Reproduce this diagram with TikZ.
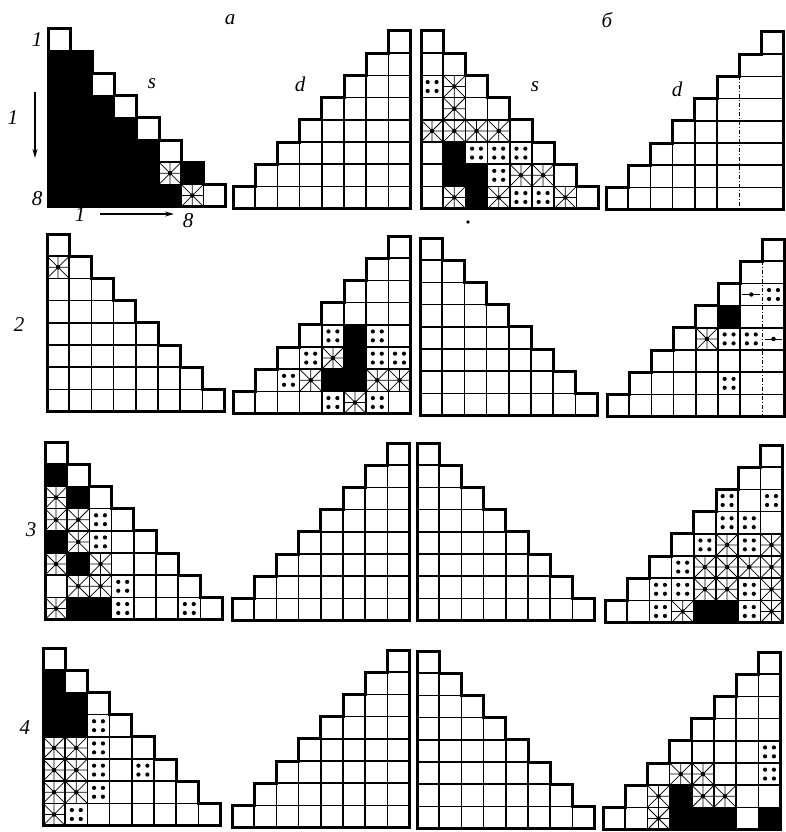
\documentclass[tikz,border=0pt]{standalone}
\usepackage{fontspec}
\setmainfont{Liberation Serif}
\usetikzlibrary{arrows.meta}
\tikzset{
  gridline/.style={line width=1.5pt},
  dashgrid/.style={line width=0.9pt, dash pattern=on 4pt off 2pt on 1pt off 2pt},
  nogrid/.style={draw=none},
  outline/.style={line width=3pt, line join=miter},
  spoke/.style={line width=0.75pt},
  lab/.style={font=\fontsize{21}{25}\selectfont\itshape, inner sep=0pt},
  tri/.style={x=22.2pt, y=-22.2pt},
  axis/.style={line width=1.3pt, -{Stealth[length=9pt,width=5pt]}},
}
% cell contents (row, column)
\newcommand\CB[2]{\fill (#2-1,#1-1) rectangle (#2,#1);}
\newcommand\CS[2]{\draw[spoke] (#2-1,#1-1) -- (#2,#1) (#2,#1-1) -- (#2-1,#1)
  (#2-0.5,#1-1) -- (#2-0.5,#1) (#2-1,#1-0.5) -- (#2,#1-0.5);
  \fill (#2-0.5,#1-0.5) circle (0.1);}
\newcommand\CD[2]{\fill (#2-0.7,#1-0.7) circle (0.095) (#2-0.3,#1-0.7) circle (0.095)
  (#2-0.7,#1-0.3) circle (0.095) (#2-0.3,#1-0.3) circle (0.095);}
\newcommand\CM[2]{\draw[spoke] (#2-0.9,#1-0.5) -- (#2-0.1,#1-0.5);
  \fill (#2-0.5,#1-0.5) circle (0.1);}
% lower-left staircase
\newcommand\GridL{%
  \foreach \k in {1,...,7}{\draw[gridline] (0,\k) -- (\k+1,\k);}
  \foreach \j in {1,...,7}{\draw[gridline] (\j,\j) -- (\j,8);}
  \draw[outline] (0,0) -- (1,0) -- (1,1) -- (2,1) -- (2,2) -- (3,2) -- (3,3) -- (4,3)
    -- (4,4) -- (5,4) -- (5,5) -- (6,5) -- (6,6) -- (7,6) -- (7,7) -- (8,7) -- (8,8)
    -- (0,8) -- cycle;}
% lower-right staircase; #1 style of line x=6, #2 style of line x=7
\newcommand\GridR[2]{%
  \foreach \k in {1,...,7}{\draw[gridline] (7-\k,\k) -- (8,\k);}
  \foreach \j in {1,...,5}{\draw[gridline] (\j,8-\j) -- (\j,8);}
  \draw[#1] (6,2) -- (6,8);
  \draw[#2] (7,1) -- (7,8);
  \draw[outline] (8,0) -- (7,0) -- (7,1) -- (6,1) -- (6,2) -- (5,2) -- (5,3) -- (4,3)
    -- (4,4) -- (3,4) -- (3,5) -- (2,5) -- (2,6) -- (1,6) -- (1,7) -- (0,7) -- (0,8)
    -- (8,8) -- cycle;}
\begin{document}
\begin{tikzpicture}[x=1pt,y=-1pt]
\useasboundingbox (0,0) rectangle (785,832);
\fill[white] (0,0) rectangle (785,832);

% ---------------- row 1 ----------------
\begin{scope}[shift={(48,29)}, tri]
  \foreach \r/\c in {2/1,2/2,3/1,3/2,4/1,4/2,4/3,5/1,5/2,5/3,5/4,
     6/1,6/2,6/3,6/4,6/5,7/1,7/2,7/3,7/4,7/5,7/7,8/1,8/2,8/3,8/4,8/5,8/6}{\CB{\r}{\c}}
  \foreach \r/\c in {7/6,8/7}{\CS{\r}{\c}}
  \GridL
\end{scope}
\begin{scope}[shift={(233,31)}, tri]
  \GridR{gridline}{gridline}
\end{scope}
\begin{scope}[shift={(421,31)}, tri]
  \foreach \r/\c in {6/2,7/2,7/3,8/3}{\CB{\r}{\c}}
  \foreach \r/\c in {3/2,4/2,5/1,5/2,5/3,5/4,7/5,7/6,8/2,8/4,8/7}{\CS{\r}{\c}}
  \foreach \r/\c in {3/1,6/3,6/4,6/5,7/4,8/5,8/6}{\CD{\r}{\c}}
  \GridL
\end{scope}
\begin{scope}[shift={(606,32)}, tri]
  \GridR{dashgrid}{nogrid}
\end{scope}

% ---------------- row 2 ----------------
\begin{scope}[shift={(47,234)}, tri]
  \CS{2}{1}
  \GridL
\end{scope}
\begin{scope}[shift={(233,236)}, tri]
  \foreach \r/\c in {5/6,6/6,7/5,7/6}{\CB{\r}{\c}}
  \foreach \r/\c in {6/5,7/4,7/7,7/8,8/6}{\CS{\r}{\c}}
  \foreach \r/\c in {5/5,5/7,6/4,6/7,6/8,7/3,8/5,8/7}{\CD{\r}{\c}}
  \GridR{gridline}{gridline}
\end{scope}
\begin{scope}[shift={(420,238)}, tri]
  \GridL
\end{scope}
\begin{scope}[shift={(607,239)}, tri]
  \CB{4}{6}
  \CS{5}{5}
  \foreach \r/\c in {3/8,5/6,5/7,7/6}{\CD{\r}{\c}}
  \CM{3}{7}
  \CM{5}{8}
  \GridR{gridline}{dashgrid}
\end{scope}

% ---------------- row 3 ----------------
\begin{scope}[shift={(45,442)}, tri]
  \foreach \r/\c in {2/1,3/2,5/1,6/2,8/2,8/3}{\CB{\r}{\c}}
  \foreach \r/\c in {3/1,4/1,4/2,5/2,6/1,6/3,7/2,7/3,8/1}{\CS{\r}{\c}}
  \foreach \r/\c in {4/3,5/3,7/4,8/4,8/7}{\CD{\r}{\c}}
  \GridL
\end{scope}
\begin{scope}[shift={(232,443)}, tri]
  \GridR{gridline}{gridline}
\end{scope}
\begin{scope}[shift={(417,443)}, tri]
  \GridL
\end{scope}
\begin{scope}[shift={(605,445)}, tri]
  \foreach \r/\c in {8/5,8/6}{\CB{\r}{\c}}
  \foreach \r/\c in {5/6,5/8,6/5,6/6,6/7,6/8,7/5,7/6,7/8,8/4,8/8}{\CS{\r}{\c}}
  \foreach \r/\c in {3/6,3/8,4/6,4/7,5/5,5/7,6/4,7/3,7/4,7/7,8/3,8/7}{\CD{\r}{\c}}
  \GridR{gridline}{gridline}
\end{scope}

% ---------------- row 4 ----------------
\begin{scope}[shift={(43,648)}, tri]
  \foreach \r/\c in {2/1,3/1,3/2,4/1,4/2}{\CB{\r}{\c}}
  \foreach \r/\c in {5/1,5/2,6/1,6/2,7/1,7/2,8/1}{\CS{\r}{\c}}
  \foreach \r/\c in {4/3,5/3,6/3,6/5,7/3,8/2}{\CD{\r}{\c}}
  \GridL
\end{scope}
\begin{scope}[shift={(232,650)}, tri]
  \GridR{gridline}{gridline}
\end{scope}
\begin{scope}[shift={(417,651)}, tri]
  \GridL
\end{scope}
\begin{scope}[shift={(603,652)}, tri]
  \foreach \r/\c in {7/4,8/4,8/5,8/6,8/8}{\CB{\r}{\c}}
  \foreach \r/\c in {6/4,6/5,7/3,7/5,7/6,8/3}{\CS{\r}{\c}}
  \foreach \r/\c in {5/8,6/8}{\CD{\r}{\c}}
  \GridR{gridline}{gridline}
\end{scope}

% ---------------- labels ----------------
\node[lab] (ta) at (230,20) {а};
\node[lab] (tb) at (607,20) {б};
\node[lab] (s1) at (152,84) {s};
\node[lab] (d1) at (300,84) {d};
\node[lab] (s2) at (535,87) {s};
\node[lab] (d2) at (677,89) {d};
\node[lab] (one1) at (37,40) {1};
\node[lab] (one2) at (13,118) {1};
\node[lab] (eight1) at (37,199) {8};
\node[lab] (one3) at (80,215) {1};
\node[lab] (eight2) at (188,221) {8};
\coordinate (va) at (35,92);
\coordinate (vb) at (35,158);
\coordinate (ha) at (100,214);
\coordinate (hb) at (174,214);
\draw[axis] (va) -- (vb);
\draw[axis] (ha) -- (hb);
\node[lab] (r2) at (19,325) {2};
\node[lab] (r3) at (31,530) {3};
\node[lab] (r4) at (25,728) {4};
\fill (468,222) circle (1.8);
\end{tikzpicture}
\end{document}
